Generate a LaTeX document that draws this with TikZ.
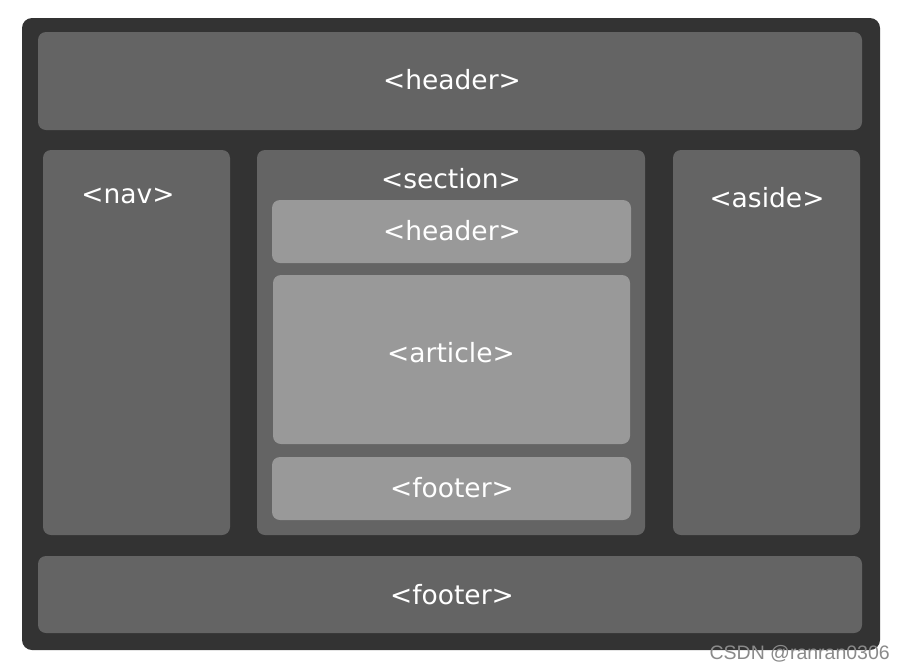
\documentclass[tikz,border=0pt]{standalone}
\usepackage{fontspec}
\setmainfont{DejaVu Sans}
\newfontfamily\wmfont{Liberation Sans}
\definecolor{outerc}{HTML}{333333}
\definecolor{boxc}{HTML}{646464}
\definecolor{innerc}{HTML}{999999}
\definecolor{wmc}{HTML}{8A8A8A}
\begin{document}
\begin{tikzpicture}[x=1pt,y=-1pt,
  region/.style={fill=boxc, draw=none, rounded corners=8pt},
  subregion/.style={fill=innerc, draw=none, rounded corners=8pt},
  lbl/.style={text=white, font=\fontsize{26.5}{30}\selectfont, inner sep=0pt, anchor=center}]
\useasboundingbox[fill=white] (0,0) rectangle (905,670);
\fill[outerc, rounded corners=10pt] (22,18) rectangle (880,650);
% regions
\fill[region] (38,32) rectangle (862,130);
\fill[region] (43,150) rectangle (230,535);
\fill[region] (257,150) rectangle (645,535);
\fill[region] (673,150) rectangle (860,535);
\fill[region] (38,556) rectangle (862,633);
\fill[subregion] (272,200) rectangle (631,263);
\fill[subregion] (273,275) rectangle (630,444);
\fill[subregion] (272,457) rectangle (631,520);
% labels
\node[lbl] (header) at (452,80) {<header>};
\node[lbl] (nav) at (128,196) {<nav>};
\node[lbl] (section) at (451,179) {<section>};
\node[lbl] (sheader) at (452,231) {<header>};
\node[lbl] (article) at (451,353) {<article>};
\node[lbl] (sfooter) at (452,488) {<footer>};
\node[lbl] (aside) at (767,198) {<aside>};
\node[lbl] (footer) at (452,595) {<footer>};
\node[text=wmc, font=\wmfont\fontsize{19.5}{22}\selectfont, anchor=east, inner sep=0pt] (wm) at (890,654) {CSDN @ranran0306};
\end{tikzpicture}
\end{document}
